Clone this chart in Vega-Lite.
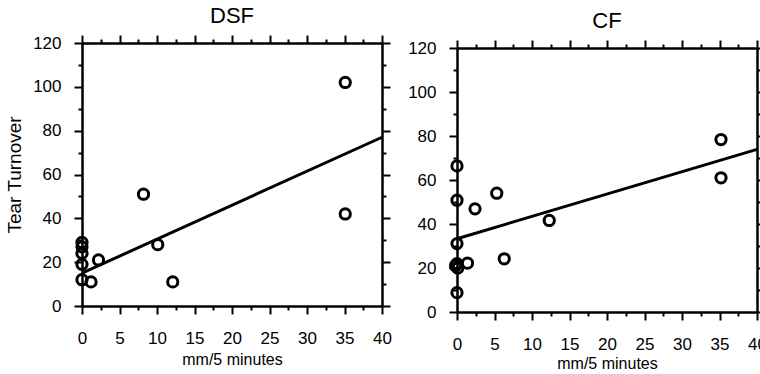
{
  "$schema": "https://vega.github.io/schema/vega-lite/v6.json",
  "background": "white",
  "padding": {"left": 5, "top": 5, "right": 0, "bottom": 0},
  "bounds": "flush",
  "spacing": 75,
  "config": {
    "view": {"stroke": null},
    "font": "Liberation Sans",
    "axis": {
      "grid": false,
      "domainColor": "black",
      "domainWidth": 2.5,
      "tickColor": "black",
      "tickWidth": 2,
      "labelFont": "Liberation Sans",
      "labelFontSize": 17,
      "labelColor": "black",
      "labelFlush": false,
      "labelOverlap": false,
      "titleFont": "Liberation Sans",
      "titleFontWeight": "normal",
      "titleColor": "black"
    },
    "title": {"font": "Liberation Sans", "fontSize": 22, "fontWeight": "normal", "color": "black", "offset": 6}
  },
  "datasets": {
    "dsf": [
      {"mm": 0, "turnover": 29}, {"mm": 0, "turnover": 27}, {"mm": 0, "turnover": 24},
      {"mm": 0, "turnover": 19}, {"mm": 0, "turnover": 12}, {"mm": 1.2, "turnover": 11},
      {"mm": 2.2, "turnover": 21}, {"mm": 8.2, "turnover": 51}, {"mm": 10.1, "turnover": 28},
      {"mm": 12.1, "turnover": 11}, {"mm": 35.1, "turnover": 102}, {"mm": 35.1, "turnover": 42}
    ],
    "dsfLine": [{"mm": 0, "turnover": 15}, {"mm": 40, "turnover": 77}],
    "cf": [
      {"mm": 0, "turnover": 66.4}, {"mm": 0, "turnover": 50.8}, {"mm": 0, "turnover": 31.1},
      {"mm": 0, "turnover": 22}, {"mm": -0.2, "turnover": 21}, {"mm": 0.1, "turnover": 20},
      {"mm": 0, "turnover": 8.8}, {"mm": 1.4, "turnover": 22.2}, {"mm": 2.4, "turnover": 46.9},
      {"mm": 5.3, "turnover": 54}, {"mm": 6.3, "turnover": 24.2}, {"mm": 12.3, "turnover": 41.6},
      {"mm": 35.2, "turnover": 78.4}, {"mm": 35.2, "turnover": 61}
    ],
    "cfLine": [{"mm": 0, "turnover": 33.3}, {"mm": 40, "turnover": 73.9}]
  },
  "hconcat": [
    {
      "width": 300,
      "height": 263,
      "title": {"text": "DSF"},
      "resolve": {"axis": {"x": "independent", "y": "independent"}},
      "layer": [
        {
          "data": {"name": "dsf"},
          "mark": {"type": "point", "shape": "circle", "filled": false, "color": "black", "strokeWidth": 3, "size": 105, "opacity": 1},
          "encoding": {
            "x": {"field": "mm", "type": "quantitative", "scale": {"domain": [0, 40], "nice": false, "zero": false},
              "axis": {"orient": "bottom", "values": [0,2.5,5,7.5,10,12.5,15,17.5,20,22.5,25,27.5,30,32.5,35,37.5,40],
                "tickSize": {"condition": {"test": "datum.value % 5 === 0", "value": 8}, "value": 4},
                "labelExpr": "datum.value % 5 === 0 ? datum.label : ''",
                "labelPadding": 16, "title": "mm/5 minutes", "titleFontSize": 16, "titlePadding": 5}},
            "y": {"field": "turnover", "type": "quantitative", "scale": {"domain": [0, 120], "nice": false},
              "axis": {"orient": "left", "values": [0,10,20,30,40,50,60,70,80,90,100,110,120],
                "tickSize": {"condition": {"test": "datum.value % 20 === 0", "value": 8}, "value": 4},
                "labelExpr": "datum.value % 20 === 0 ? datum.label : ''",
                "labelPadding": 13, "title": "Tear Turnover", "titleFontSize": 19, "titlePadding": 8}}
          }
        },
        {
          "data": {"name": "dsfLine"},
          "mark": {"type": "line", "color": "black", "strokeWidth": 3},
          "encoding": {
            "x": {"field": "mm", "type": "quantitative",
              "axis": {"orient": "top", "values": [0,2.5,5,7.5,10,12.5,15,17.5,20,22.5,25,27.5,30,32.5,35,37.5,40],
                "tickSize": {"condition": {"test": "datum.value % 5 === 0", "value": 8}, "value": 4},
                "labels": false, "title": null}},
            "y": {"field": "turnover", "type": "quantitative",
              "axis": {"orient": "right", "values": [0,10,20,30,40,50,60,70,80,90,100,110,120],
                "tickSize": {"condition": {"test": "datum.value % 20 === 0", "value": 8}, "value": 4},
                "labels": false, "title": null}}
          }
        }
      ]
    },
    {
      "width": 300,
      "height": 269,
      "title": {"text": "CF"},
      "resolve": {"axis": {"x": "independent", "y": "independent"}},
      "layer": [
        {
          "data": {"name": "cf"},
          "mark": {"type": "point", "shape": "circle", "filled": false, "color": "black", "strokeWidth": 3, "size": 105, "opacity": 1},
          "encoding": {
            "x": {"field": "mm", "type": "quantitative", "scale": {"domain": [0, 40], "nice": false, "zero": false},
              "axis": {"orient": "bottom", "values": [0,2.5,5,7.5,10,12.5,15,17.5,20,22.5,25,27.5,30,32.5,35,37.5,40],
                "tickSize": {"condition": {"test": "datum.value % 5 === 0", "value": 8}, "value": 4},
                "labelExpr": "datum.value % 5 === 0 ? datum.label : ''",
                "labelPadding": 16, "title": "mm/5 minutes", "titleFontSize": 16, "titlePadding": 3}},
            "y": {"field": "turnover", "type": "quantitative", "scale": {"domain": [0, 120], "nice": false, "range": [269, 5]},
              "axis": {"orient": "left", "values": [0,10,20,30,40,50,60,70,80,90,100,110,120],
                "tickSize": {"condition": {"test": "datum.value % 20 === 0", "value": 8}, "value": 4},
                "labelExpr": "datum.value % 20 === 0 ? datum.label : ''",
                "labelPadding": 13, "title": null}}
          }
        },
        {
          "data": {"name": "cfLine"},
          "mark": {"type": "line", "color": "black", "strokeWidth": 3},
          "encoding": {
            "x": {"field": "mm", "type": "quantitative",
              "axis": {"orient": "top", "offset": -5, "values": [0,2.5,5,7.5,10,12.5,15,17.5,20,22.5,25,27.5,30,32.5,35,37.5,40],
                "tickSize": {"condition": {"test": "datum.value % 5 === 0", "value": 8}, "value": 4},
                "labels": false, "title": null}},
            "y": {"field": "turnover", "type": "quantitative",
              "axis": {"orient": "right", "values": [0,10,20,30,40,50,60,70,80,90,100,110,120],
                "tickSize": {"condition": {"test": "datum.value % 20 === 0", "value": 8}, "value": 4},
                "labels": false, "title": null}}
          }
        }
      ]
    }
  ]
}
